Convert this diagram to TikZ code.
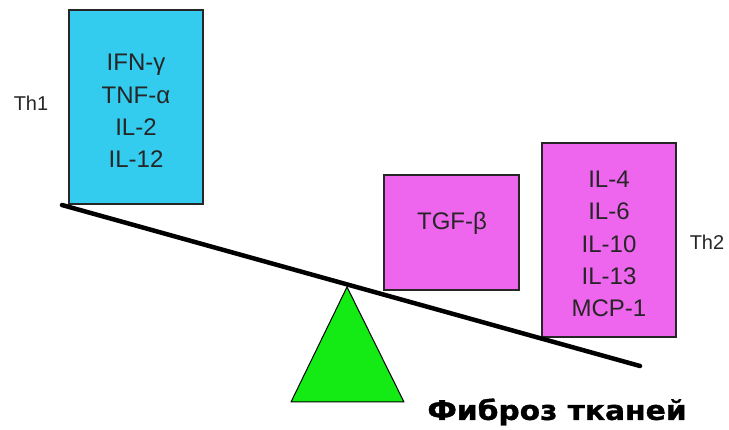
\documentclass[tikz,border=0pt]{standalone}
\usepackage{fontspec}
\setmainfont{Liberation Sans}
\newfontfamily\heavyfont[BoldFeatures={FakeBold=1.2,FakeStretch=1.1}]{DejaVu Sans}
\begin{document}
\begin{tikzpicture}[x=1pt,y=-1pt,
  cytobox/.style={draw=black!85, line width=1.6pt, inner sep=0pt},
  cytotext/.style={align=center, inner sep=0pt, text=black!85,
    font=\fontsize{24}{32.3}\selectfont},
  th1col/.style={fill={rgb,255:red,51;green,204;blue,238}},
  th2col/.style={fill={rgb,255:red,238;green,102;blue,238}},
  celllabel/.style={text=black!85, font=\fontsize{20}{24}\selectfont},
  beam/.style={line width=4.5pt, line cap=round},
  fulcrum/.style={fill={rgb,255:red,20;green,235;blue,20}, draw=black, line width=1pt, line join=round},
  caption/.style={font=\heavyfont\fontsize{27}{32}\selectfont\bfseries}]
\useasboundingbox (0,0) rectangle (729,430);

% Th1 cytokines (left pan)
\node[cytobox, th1col, minimum width=134pt, minimum height=194pt] (th1box) at (136,107) {};
\node[cytotext] (th1list) at (136,111) {IFN-γ\\TNF-α\\IL-2\\IL-12};
\node[celllabel] (th1) at (31,103) {Th1};

% Th2 cytokines (right pan)
\node[cytobox, th2col, minimum width=135pt, minimum height=115pt] (tgf) at (451.5,232.5) {};
\node[cytotext] (tgflabel) at (452,223) {TGF-β};
\node[cytobox, th2col, minimum width=134pt, minimum height=194pt] (th2box) at (609,240) {};
\node[cytotext] (th2list) at (609,244) {IL-4\\IL-6\\IL-10\\IL-13\\MCP-1};
\node[celllabel] (th2) at (707,242) {Th2};

% Fulcrum
\coordinate (apex) at (347,287);
\coordinate (baseL) at (291,402);
\coordinate (baseR) at (404,402);
\draw[fulcrum] (apex) -- (baseR) -- (baseL) -- cycle;

% Tilted beam of the scales
\coordinate (beamL) at (62,205);
\coordinate (beamR) at (640,366);
\draw[beam] (beamL) -- (beamR);

% Caption
\node[caption] (fib) at (557,412) {Фиброз тканей};
\end{tikzpicture}
\end{document}
